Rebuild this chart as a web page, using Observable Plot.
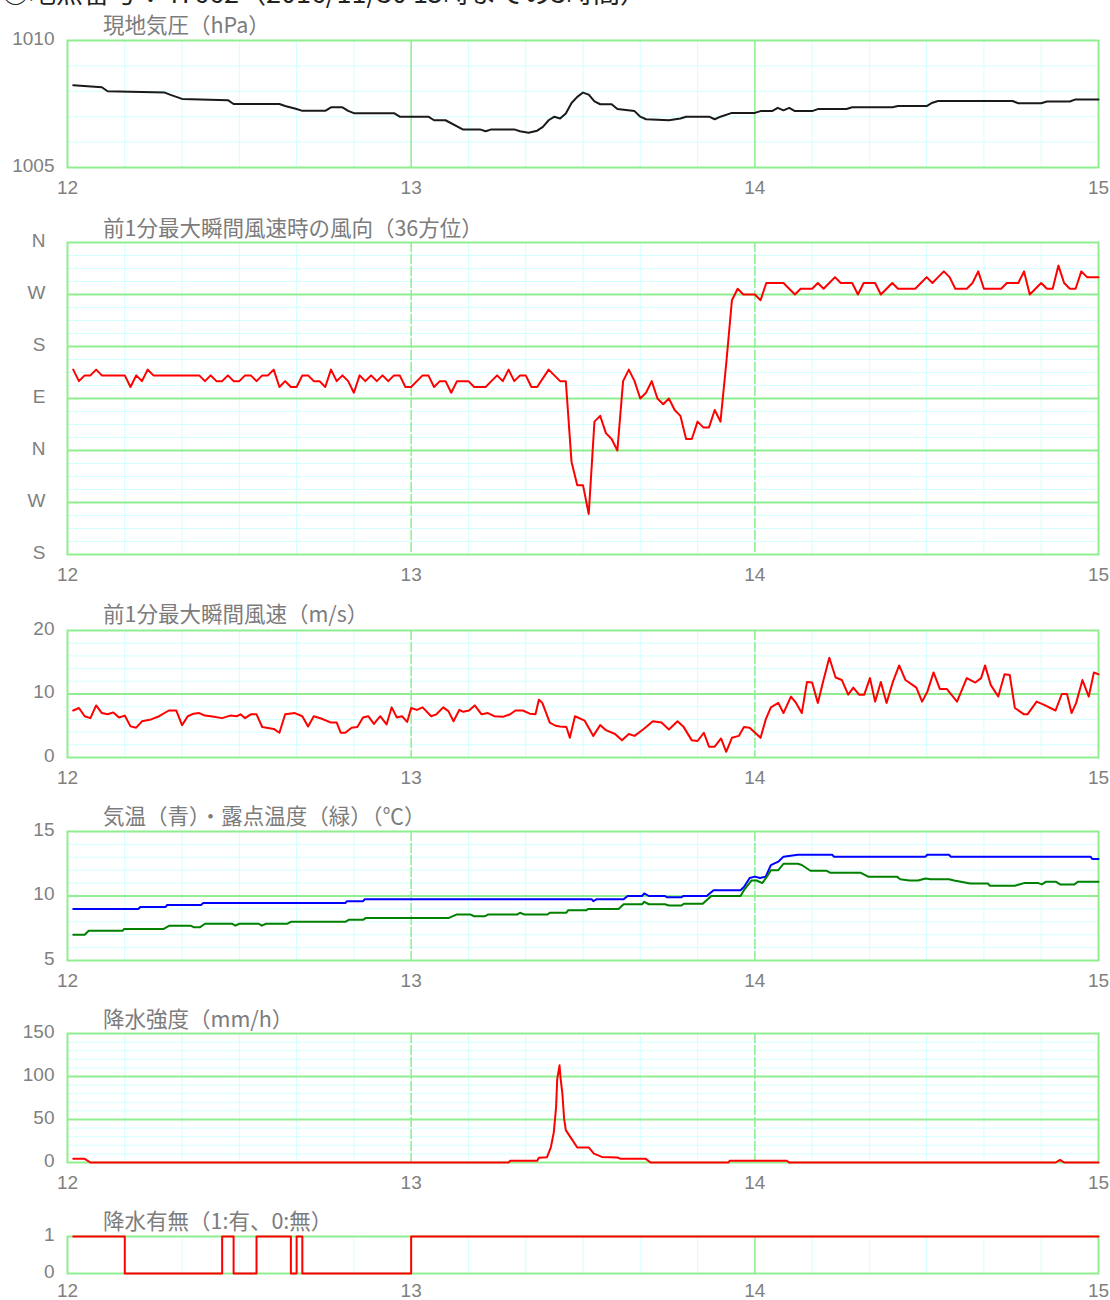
<!DOCTYPE html>
<html><head><meta charset="utf-8">
<script src="https://cdn.jsdelivr.net/npm/d3@7"></script>
<script src="https://cdn.jsdelivr.net/npm/@observablehq/plot@0.6"></script>
<style>
body{margin:0;background:#fff;}
#root{position:relative;width:1110px;height:1300px;overflow:hidden;background:#fff;}
.panel{position:absolute;left:0;}
.ttl{position:absolute;font-family:"Noto Sans CJK JP";font-size:21.5px;color:#7c7c7c;white-space:nowrap;line-height:22px;}
.top{position:absolute;left:2px;top:-22px;font-family:"Noto Sans CJK JP";font-size:27px;color:#222;white-space:nowrap;line-height:27px;}
</style></head><body><div id="root"></div>
<script>
// ---- labels ----
const headerText = "○地点番号：47662（2016/11/30 15時までの3時間）";
const titles = ["現地気圧（hPa）", "前1分最大瞬間風速時の風向（36方位）", "前1分最大瞬間風速（m/s）",
  "気温（青）・露点温度（緑）（℃）", "降水強度（mm/h）", "降水有無（1:有、0:無）"];
const hourLabels = ["12", "13", "14", "15"];
const hourTicks = [0, 60, 120, 180]; // minutes after 12:00
const dirLabels = ["S", "W", "N", "E", "S", "W", "N"];
const dirTicks = [180, 270, 360, 450, 540, 630, 720];

// ---- data: [minute after 12:00, value] ----
const pressure = [[1,1008.24],[6,1008.16],[7,1008.0],[17,1007.95],[18,1007.86],[20,1007.7],[28,1007.65],[29,1007.5],[37,1007.5],[38,1007.42],[40,1007.3],[41,1007.23],[45,1007.23],[46,1007.37],[48,1007.37],[49,1007.23],[50,1007.14],[57,1007.14],[58,1007.0],[63,1007.0],[64,1006.86],[66,1006.86],[69,1006.5],[72,1006.5],[73,1006.43],[74,1006.5],[78,1006.5],[79,1006.43],[80.5,1006.37],[82,1006.45],[83,1006.6],[84,1006.86],[85,1007.0],[86,1006.93],[87,1007.13],[88,1007.54],[89,1007.78],[90,1007.95],[91,1007.87],[92,1007.6],[93,1007.49],[95,1007.49],[96,1007.3],[99,1007.22],[100,1007.0],[101,1006.9],[105,1006.86],[107,1006.93],[108,1007.0],[112,1007.0],[113,1006.9],[114,1007.0],[116,1007.15],[120,1007.15],[121,1007.22],[123,1007.22],[124,1007.35],[125,1007.25],[126,1007.35],[127,1007.22],[130,1007.22],[131,1007.3],[136,1007.3],[137,1007.37],[144,1007.37],[145,1007.42],[150,1007.42],[151,1007.55],[152,1007.62],[165,1007.62],[166,1007.53],[170,1007.53],[171,1007.6],[175,1007.6],[176,1007.68],[180,1007.68]];

const windDir = [[1,500],[2,480],[3,490],[4,490],[5,500],[6,490],[10,490],[11,470],[12,490],[13,480],[14,500],[15,490],[23,490],[24,480],[25,490],[26,480],[27,480],[28,490],[29,480],[30,480],[31,490],[32,490],[33,480],[34,490],[35,490],[36,500],[37,470],[38,480],[39,470],[40,470],[41,490],[42,490],[43,480],[44,480],[45,470],[46,500],[47,480],[48,490],[49,480],[50,460],[51,490],[52,480],[53,490],[54,480],[55,490],[56,480],[57,490],[58,490],[59,470],[60,470],[61,480],[62,490],[63,490],[64,470],[65,480],[66,480],[67,460],[68,480],[70,480],[71,470],[73,470],[74,480],[75,490],[76,480],[77,500],[78,480],[79,490],[80,490],[81,470],[82,470],[84,500],[86,480],[87,480],[88,340],[89,300],[90,300],[91,250],[92,410],[93,420],[94,390],[95,380],[96,360],[97,480],[98,500],[99,480],[100,450],[101,460],[102,480],[103,450],[104,440],[105,450],[106,430],[107,420],[108,380],[109,380],[110,410],[111,400],[112,400],[113,430],[114,410],[115,510],[116,620],[117,640],[118,630],[120,630],[121,620],[122,650],[125,650],[126,640],[127,630],[128,640],[130,640],[131,650],[132,640],[133,650],[134,660],[135,650],[137,650],[138,630],[139,650],[141,650],[142,630],[143,640],[144,650],[145,640],[148,640],[149,650],[150,660],[151,650],[152,660],[153,670],[154,660],[155,640],[157,640],[158,650],[159,670],[160,640],[163,640],[164,650],[166,650],[167,670],[168,630],[169,640],[170,650],[171,640],[172,640],[173,680],[174,650],[175,640],[176,640],[177,670],[178,660],[180,660]];

const windSpeed = [[1,7.4],[2,7.8],[3,6.5],[4,6.2],[5,8.2],[6,7.0],[7,6.8],[8,7.1],[9,6.3],[10,6.6],[11,4.9],[12,4.7],[13,5.7],[14.6,6.0],[16,6.5],[17.7,7.4],[19,7.4],[20,5.1],[21,6.5],[22,6.9],[23,7.0],[24,6.6],[25,6.5],[27,6.2],[28.4,6.6],[29.6,6.5],[30.2,6.8],[31,6.2],[32,6.8],[33,6.8],[34,4.8],[36,4.5],[37,3.9],[38,6.8],[39.7,7.0],[41,6.5],[42,4.9],[43,6.5],[44.4,6.1],[46,5.5],[47,5.5],[47.7,3.9],[48.5,3.9],[49.6,4.7],[50.6,4.8],[51.6,6.3],[52.5,6.5],[53.5,5.3],[54.6,6.5],[55.7,5.2],[56.6,7.9],[57.5,6.3],[58.4,6.5],[59.3,5.6],[60,7.8],[61,7.5],[62,7.9],[63.5,6.5],[64.4,6.8],[65.6,7.9],[66.5,7.3],[67.4,5.7],[68.4,7.5],[69.1,7.2],[70.1,7.4],[71.1,8.2],[72.3,6.8],[73.4,7.0],[74.5,6.5],[76,6.4],[77.3,6.8],[78.2,7.4],[79.5,7.4],[80.7,6.9],[81.7,6.8],[82.3,9.1],[82.9,8.6],[84.2,5.5],[85.2,5.0],[86,4.9],[87.1,4.8],[87.7,3.1],[88.6,6.5],[90.3,5.8],[91.8,3.4],[93,5.1],[94,4.3],[95.6,3.7],[96.8,2.7],[98,3.7],[99,3.4],[100.6,4.5],[102.2,5.7],[103.7,5.5],[105,4.4],[106.5,5.7],[107.5,4.9],[109,2.7],[110,2.6],[111.1,3.9],[112,1.7],[113,1.7],[114.1,3.0],[115,0.9],[116,3.1],[117.2,3.4],[118.1,4.8],[119.1,4.7],[121,3.1],[121.9,6.0],[122.8,7.9],[124.1,8.6],[125,7.0],[126.3,9.6],[127.2,8.6],[128.2,7.0],[129.1,11.9],[130,11.8],[131,8.6],[131.9,11.9],[133,15.7],[134.1,12.6],[135.2,12.2],[136.3,9.9],[137.2,11.0],[138.2,9.9],[139.1,9.9],[140.1,12.5],[141,8.8],[142,11.9],[143,8.6],[144.1,11.9],[145.2,14.5],[146.3,12.2],[148.2,11.0],[149.2,8.8],[150.1,10.3],[151.2,13.4],[152.3,10.8],[153.5,10.8],[155.3,8.8],[157,12.5],[158.5,11.8],[159.5,12.5],[160.2,14.5],[161.2,11.4],[162.5,9.6],[163.6,13.1],[164.5,13.0],[165.4,7.8],[167,6.8],[167.6,6.8],[169.2,8.8],[170.5,8.3],[172.5,7.4],[173.6,10.0],[174.5,10.0],[175.3,7.0],[176.1,8.6],[177.2,12.2],[178.3,9.6],[179.2,13.4],[180,13.1]];

const temperature = [[1,9.0],[12.4,9.0],[12.7,9.15],[17.1,9.15],[17.4,9.3],[23.3,9.3],[23.7,9.45],[48.5,9.45],[48.8,9.6],[51.6,9.6],[51.9,9.75],[91.5,9.75],[91.8,9.6],[92.4,9.75],[97.1,9.75],[97.8,10.0],[100.3,10.0],[100.7,10.2],[101.5,10.0],[104.3,10.0],[104.7,9.9],[107.2,9.9],[107.5,10.0],[111.6,10.0],[112.8,10.45],[117.5,10.45],[118.1,10.7],[119.1,11.4],[120,11.5],[120.9,11.4],[121.9,11.5],[122.8,12.4],[124.1,12.66],[125,13.05],[127.5,13.2],[133.5,13.2],[133.8,13.05],[149.8,13.05],[150.1,13.2],[153.9,13.2],[154.2,13.05],[178.6,13.05],[178.9,12.87],[180,12.87]];

const dewPoint = [[1,7.0],[3,7.0],[3.7,7.3],[9.6,7.3],[9.9,7.45],[16.8,7.45],[17.8,7.7],[21.5,7.7],[22.1,7.57],[23.1,7.57],[24,7.85],[28.7,7.85],[29.3,7.7],[30,7.85],[33.4,7.85],[33.9,7.7],[34.7,7.85],[38.4,7.85],[39,8.0],[48.5,8.0],[49.1,8.15],[51.6,8.15],[52.1,8.3],[66.6,8.3],[67.9,8.56],[70.4,8.56],[71,8.43],[72.9,8.43],[73.4,8.56],[78.5,8.56],[79,8.7],[79.8,8.56],[83.8,8.56],[84.2,8.7],[87.1,8.7],[87.4,8.9],[90.6,8.9],[90.9,9.0],[96.2,9.0],[97.1,9.36],[100.3,9.36],[100.7,9.55],[101.5,9.36],[104.3,9.36],[105,9.26],[107.2,9.26],[107.6,9.4],[110.9,9.4],[112.4,10.0],[117.5,10.0],[118.1,10.45],[119.4,11.2],[120.3,11.2],[121.3,11.0],[122.2,11.55],[122.8,12.0],[124.1,12.0],[125,12.5],[127.5,12.5],[128.2,12.4],[129.7,11.96],[132.5,11.96],[133.2,11.8],[138.5,11.8],[139.8,11.5],[144.8,11.5],[145.4,11.3],[147,11.2],[148.5,11.2],[149.8,11.36],[150.7,11.3],[153.9,11.3],[154.8,11.2],[157.6,10.97],[160.7,10.97],[161,10.8],[165.4,10.8],[167,11.0],[169.5,11.0],[170.1,10.9],[170.8,11.1],[172.6,11.1],[173.3,10.9],[175.8,10.9],[176.4,11.1],[180,11.1]];

const rainRate = [[1,4.3],[3,4.3],[4,0],[77,0],[77.3,2],[82,2],[82.3,5.5],[83.7,6],[84.4,18],[84.9,35],[85.3,64],[85.5,97],[85.9,113],[86.1,97],[86.4,80],[86.7,51],[87,37.6],[87.8,29.5],[89,17.5],[91,17.5],[91.9,10.4],[93.3,6.5],[96,5.8],[96.5,4.5],[100.9,4.5],[101.8,0],[115.4,0],[115.6,2],[125.6,2],[126,0],[172.5,0],[173.3,3],[174,0],[180,0]];

const rainFlag = [[1,1],[10,0],[27,1],[29,0],[33,1],[39,0],[40,1],[41,0],[60,1],[180,1]];

// ---- styling ----
const GREEN = "#90ee90", CYAN = "#d4ffff", GRAY = "#808080";
const root = document.getElementById("root");

const top0 = document.createElement("div");
top0.className = "top"; top0.textContent = headerText; root.appendChild(top0);

function panel({top, bottom, title, titleY, yDomain, yTicks, yFormat, minorY, majorY, marks, yPad = 13, xPad = 13, vDash = null}) {
  const mt = 30, mb = 34;
  const chart = Plot.plot({
    width: 1110, height: bottom - top + mt + mb,
    marginLeft: 67, marginRight: 12, marginTop: mt, marginBottom: mb,
    x: {domain: [0, 180]},
    y: {domain: yDomain},
    style: {fontFamily: "Liberation Sans, Arial, sans-serif", fontSize: "19px", color: GRAY, background: "transparent", overflow: "visible"},
    marks: [
      Plot.ruleX(d3.range(0, 181, 10), {stroke: CYAN, strokeWidth: 1}),
      Plot.ruleY(minorY, {stroke: CYAN, strokeWidth: 1}),
      Plot.ruleX([60, 120], {stroke: GREEN, strokeWidth: 1.5, strokeDasharray: vDash}),
      Plot.ruleY(majorY, {stroke: GREEN, strokeWidth: 2}),
      Plot.frame({stroke: GREEN, strokeWidth: 2}),
      Plot.axisX({ticks: hourTicks, tickFormat: (d) => hourLabels[hourTicks.indexOf(d)], tickSize: 0, tickPadding: xPad, fill: GRAY}),
      Plot.axisY({ticks: yTicks, tickFormat: yFormat, tickSize: 0, tickPadding: yPad, fill: GRAY, dy: -2}),
      ...marks
    ]
  });
  chart.classList.add("panel");
  chart.style.top = (top - mt) + "px";
  root.appendChild(chart);
  const t = document.createElement("div");
  t.className = "ttl"; t.textContent = title;
  t.style.left = "103px"; t.style.top = (titleY - 12) + "px";
  root.appendChild(t);
}

const L = (data, stroke, extra = {}) => Plot.line(data, {x: (d) => d[0], y: (d) => d[1], stroke, strokeWidth: 2, ...extra});

panel({top: 40, bottom: 167, title: titles[0], titleY: 25, yDomain: [1005, 1010], yTicks: [1005, 1010], yFormat: (d) => String(d),
  minorY: d3.range(1006, 1010, 1), majorY: [], marks: [L(pressure, "#1a1a1a")]});

panel({top: 242, bottom: 554, title: titles[1], titleY: 228, yDomain: [180, 720], yTicks: dirTicks,
  yFormat: (d) => dirLabels[dirTicks.indexOf(d)], yPad: 22,
  minorY: d3.range(180, 720.1, 22.5), majorY: dirTicks.slice(1, -1), vDash: "10,2", marks: [L(windDir, "#ff0000")]});

panel({top: 630, bottom: 757, title: titles[2], titleY: 614, yDomain: [0, 20], yTicks: [0, 10, 20], yFormat: (d) => String(d),
  minorY: d3.range(2, 20, 2), majorY: [10], vDash: "10,2", marks: [L(windSpeed, "#ff0000")]});

panel({top: 831, bottom: 960, title: titles[3], titleY: 816, yDomain: [5, 15], yTicks: [5, 10, 15], yFormat: (d) => String(d),
  minorY: d3.range(6, 15, 1), majorY: [10], vDash: "10,2", marks: [L(temperature, "#0000ff"), L(dewPoint, "#008000")]});

panel({top: 1033, bottom: 1162, title: titles[4], titleY: 1019, yDomain: [0, 150], yTicks: [0, 50, 100, 150], yFormat: (d) => String(d),
  minorY: d3.range(10, 150, 10), majorY: [50, 100], vDash: "10,2", marks: [L(rainRate, "#ff0000")]});

panel({top: 1236, bottom: 1273, title: titles[5], titleY: 1221, yDomain: [0, 1], yTicks: [0, 1], yFormat: (d) => String(d),
  minorY: [], majorY: [], xPad: 10, marks: [L(rainFlag, "#ff0000", {curve: "step-after"})]});
</script></body></html>
